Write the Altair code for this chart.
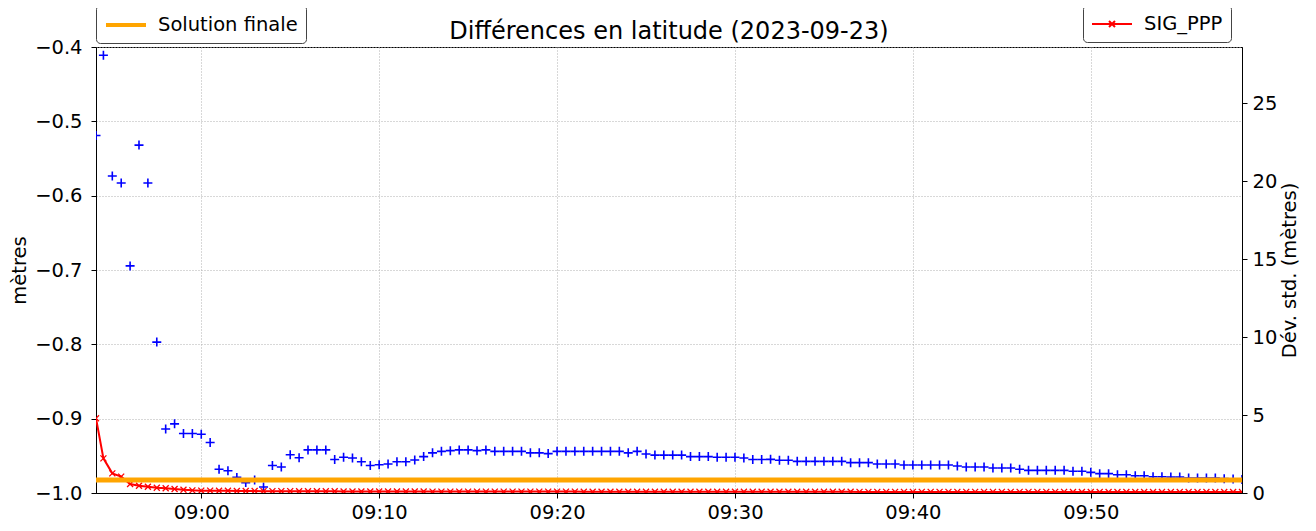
import altair as alt
import pandas as pd

# ---- data ----
first_epoch = "2023-09-23 08:54:05"
regular_start = "2023-09-23 08:54:30"
epoch_step = "30s"

lat_diff = [
    -0.519, -0.411, -0.5735, -0.583, -0.6945, -0.532, -0.583, -0.797,
    -0.914, -0.907, -0.920, -0.920, -0.921, -0.932, -0.968, -0.970,
    -0.979, -0.986, -0.9825, -0.992, -0.963, -0.965, -0.9485, -0.9525,
    -0.942, -0.942, -0.942, -0.955, -0.952, -0.953, -0.958, -0.963,
    -0.962,
    -0.961, -0.958, -0.958, -0.9556, -0.951, -0.946, -0.944, -0.943,
    -0.942, -0.942, -0.943, -0.942, -0.944, -0.944, -0.944, -0.944,
    -0.946, -0.946, -0.947, -0.944, -0.944, -0.944, -0.944, -0.944,
    -0.944, -0.944, -0.944, -0.946, -0.944, -0.9475, -0.949, -0.949,
    -0.949, -0.949, -0.951, -0.951, -0.951, -0.952, -0.952, -0.952,
    -0.953, -0.955, -0.955,
    -0.9547, -0.956, -0.956, -0.9574, -0.9574, -0.9574, -0.9574, -0.9574,
    -0.9574, -0.9592, -0.9592, -0.9592, -0.961, -0.961, -0.961, -0.9623,
    -0.9623, -0.9623, -0.9623, -0.9623, -0.9623, -0.9637, -0.965, -0.965,
    -0.965, -0.9664, -0.9664, -0.9664, -0.9681, -0.9695, -0.9695, -0.9695,
    -0.9695, -0.9695, -0.9708, -0.9708, -0.9722, -0.974, -0.974, -0.9754,
    -0.9754, -0.9767, -0.9767, -0.9781, -0.9781, -0.9785, -0.9785, -0.9798,
    -0.9798, -0.9798, -0.9798, -0.9807, -0.9812, -0.982,
]

sig_ppp = [
    4.79, 2.22, 1.26, 1.05, 0.58, 0.47, 0.40, 0.34, 0.30, 0.26, 0.21, 0.17, 0.15,
    0.15, 0.14, 0.14, 0.13, 0.13, 0.13, 0.12, 0.12, 0.12, 0.12, 0.11, 0.11,
    0.11, 0.11, 0.11, 0.10, 0.10, 0.10, 0.10, 0.10,
    0.10, 0.10, 0.10, 0.10, 0.10, 0.09, 0.09, 0.09, 0.09, 0.09,
    0.09, 0.09, 0.09, 0.09, 0.09, 0.09, 0.09, 0.09, 0.09, 0.09,
    0.09, 0.09, 0.08, 0.08, 0.08, 0.08, 0.08, 0.08, 0.08, 0.08,
    0.08, 0.08, 0.08, 0.08, 0.08, 0.08, 0.08, 0.08, 0.08, 0.08,
    0.08, 0.08, 0.08,
    0.08, 0.08, 0.08, 0.08, 0.08, 0.08, 0.08, 0.08, 0.08, 0.08,
    0.07, 0.07, 0.07, 0.07, 0.07, 0.07, 0.07, 0.07, 0.07, 0.07,
    0.07, 0.07, 0.07, 0.07, 0.07, 0.07, 0.07, 0.07, 0.07, 0.07,
    0.07, 0.07, 0.07, 0.07,
    0.06, 0.06, 0.06, 0.06, 0.06, 0.06, 0.06, 0.06, 0.06, 0.06,
    0.06, 0.06, 0.06, 0.06, 0.06, 0.06, 0.06, 0.06, 0.06, 0.06,
]

final_solution = [-0.9825]
final_label = ["Solution finale"]
sig_label = "SIG_PPP"

left_ticks = [-1.0, -0.9, -0.8, -0.7, -0.6, -0.5, -0.4]
right_ticks = [0, 5, 10, 15, 20, 25]
x_tick_minutes = [(9, 0), (9, 10), (9, 20), (9, 30), (9, 40), (9, 50)]

# ---- tables ----
n = len(lat_diff)
times = [pd.Timestamp(first_epoch)] + list(pd.date_range(regular_start, periods=n - 1, freq=epoch_step))
times = [t.strftime("%Y-%m-%dT%H:%M:%S") for t in times]
df = pd.DataFrame({"time": times, "diff": lat_diff, "sig": sig_ppp, "serie": [sig_label] * n})
df_final = pd.DataFrame({"y": final_solution, "label": final_label})

FONT = "DejaVu Sans"
FS = 19.5

x_values = [alt.DateTime(year=2023, month=9, date=23, hours=h, minutes=m) for h, m in x_tick_minutes]
x_enc = alt.X(
    "time:T",
    scale=alt.Scale(nice=False, padding=0),
    axis=alt.Axis(values=x_values, format="%H:%M", title=None, grid=True,
                  gridDash=[1, 2], gridColor="#b0b0b0", tickSize=5, labelPadding=5),
)

left_scale = alt.Scale(domain=[-1.0, -0.4], nice=False, zero=False)

blue = alt.Chart(df).mark_point(
    shape="M-1,0L1,0M0,-1L0,1", filled=False, color="#0000ff", size=81,
    strokeWidth=1.6, opacity=1, clip=True,
).encode(
    x=x_enc,
    y=alt.Y("diff:Q", scale=left_scale,
            axis=alt.Axis(orient="left", values=left_ticks, format=".1f", title="mètres",
                          grid=True, gridDash=[1, 2], gridColor="#b0b0b0",
                          tickSize=5, labelPadding=9, titlePadding=5)),
)

red = alt.Chart(df).mark_line(
    strokeWidth=2, clip=True,
    point=alt.OverlayMarkDef(shape="M-1,-1L1,1M-1,1L1,-1", filled=False, size=36,
                             strokeWidth=1.3, opacity=1),
).encode(
    x=x_enc,
    y=alt.Y("sig:Q", scale=alt.Scale(domain=[0, 28.6], nice=False),
            axis=alt.Axis(orient="right", values=right_ticks, format="d",
                          title="Dév. std. (mètres)", titleAngle=270, grid=False,
                          tickSize=5, labelPadding=5, titlePadding=23)),
    color=alt.Color("serie:N", scale=alt.Scale(domain=[sig_label], range=["#ff0000"]),
                    legend=alt.Legend(orient="none", legendX=987, legendY=-42, title=None,
                                      symbolType="M-2,0L2,0M-0.3,-0.3L0.3,0.3M-0.3,0.3L0.3,-0.3",
                                      symbolSize=400, symbolStrokeWidth=2, symbolOffset=10,
                                      labelOffset=21, padding=8, strokeColor="#444",
                                      cornerRadius=4, fillColor="white")),
)

orange = alt.Chart(df_final).mark_rule(strokeWidth=5).encode(
    y=alt.Y("y:Q", scale=left_scale, axis=None),
    color=alt.Color("label:N", scale=alt.Scale(domain=final_label, range=["#ffa500"]),
                    legend=alt.Legend(orient="none", legendX=0, legendY=-42, title=None,
                                      symbolType="M-2,0L2,0", symbolSize=400,
                                      symbolStrokeWidth=4, symbolOffset=10,
                                      labelOffset=20, padding=8, strokeColor="#444",
                                      cornerRadius=4, fillColor="white")),
)

chart = alt.layer(blue, red, orange).resolve_scale(
    y="independent", color="independent"
).properties(
    width=1146, height=446,
    autosize=alt.AutoSizeParams(type="none"),
    padding={"left": 88, "top": 39, "right": 66, "bottom": 36},
    title=alt.TitleParams("Différences en latitude (2023-09-23)", font=FONT, fontSize=24,
                          fontWeight="normal", color="black", anchor="middle",
                          frame="group", baseline="alphabetic", offset=10, dy=68),
    background="white",
).configure_view(
    stroke="black", strokeWidth=1
).configure_axis(
    labelFont=FONT, titleFont=FONT, labelFontSize=FS, titleFontSize=FS,
    titleFontWeight="normal", labelColor="black", titleColor="black",
    tickColor="black", domainColor="black",
).configure_legend(
    labelFont=FONT, labelFontSize=FS, labelColor="black",
)

chart.save("out.html", embed_options={"renderer": "svg", "actions": False})
